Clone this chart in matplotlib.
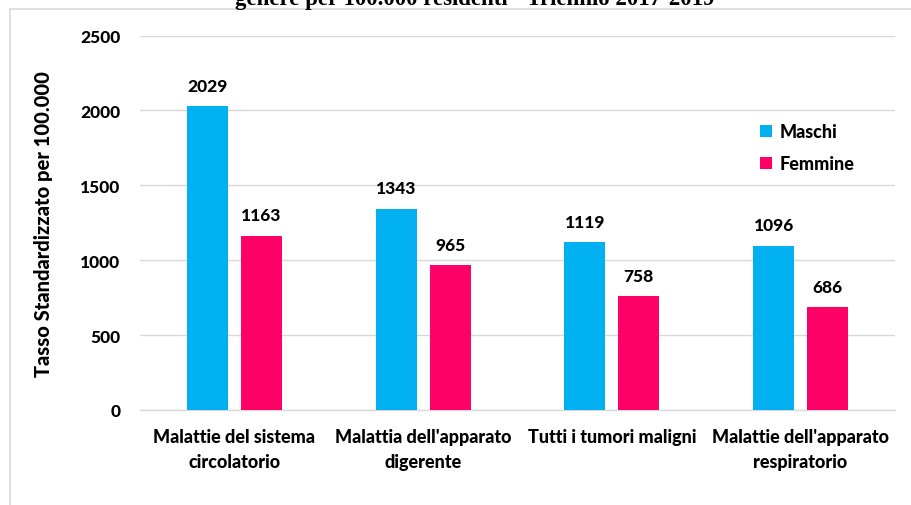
import matplotlib
matplotlib.use("Agg")
import matplotlib.pyplot as plt
import numpy as np
from matplotlib.patches import Rectangle

categories = ["Malattie del sistema\ncircolatorio", "Malattia dell'apparato\ndigerente",
              "Tutti i tumori maligni", "Malattie dell'apparato\nrespiratorio"]
maschi = [2029, 1343, 1119, 1096]
femmine = [1163, 965, 758, 686]
yticks = [0, 500, 1000, 1500, 2000, 2500]

plt.rcParams['font.family'] = ['Lato', 'DejaVu Sans']

fig = plt.figure(figsize=(9.11, 5.06), dpi=100)
ax = fig.add_axes([140/911, 1-411/506, 755/911, (411-36.5)/506])

x = np.arange(len(categories))
w = 0.217
off = 0.143
b1 = ax.bar(x - off, maschi, w, color='#00B0F0', label='Maschi', zorder=3)
b2 = ax.bar(x + off, femmine, w, color='#FF0066', label='Femmine', zorder=3)

for bars in (b1, b2):
    for r in bars:
        h = r.get_height()
        ax.annotate(f"{h:.0f}", (r.get_x() + r.get_width()/2, h), xytext=(0, 9),
                    textcoords='offset points', ha='center', va='bottom',
                    fontsize=12.5, fontweight='black')

ax.set_xlim(-0.5, len(categories) - 0.5)
ax.set_ylim(0, 2500)
ax.set_yticks(yticks)
ax.set_yticklabels([str(t) for t in yticks], fontsize=12.5, fontweight='black')
ax.set_xticks(x)
ax.set_xticklabels(categories, fontsize=13, fontweight='black', linespacing=1.6)
ax.tick_params(axis='x', length=0, pad=13)
ax.tick_params(axis='y', length=0, pad=14)
ax.yaxis.grid(True, color='#d9d9d9', linewidth=1, zorder=0)
for s in ['top', 'right', 'left']:
    ax.spines[s].set_visible(False)
ax.spines['bottom'].set_color('#d9d9d9')
ax.spines['bottom'].set_linewidth(1)

ax.set_ylabel("Tasso Standardizzato per 100.000", fontsize=14.5, fontweight='black', labelpad=20)

leg = ax.legend(loc='upper left', bbox_to_anchor=(0.80, 0.81), frameon=False,
                prop={'size': 13, 'weight': 'black'}, handlelength=0.65, handleheight=0.65,
                labelspacing=0.85, handletextpad=0.4)

fig.patches.append(Rectangle((10/911, -0.1), 1.2, 1 - 10/506 + 0.1, transform=fig.transFigure,
                             fill=False, edgecolor='#d9d9d9', linewidth=1.2, zorder=0))

fig.text(475/911, 1 - 5/506, "genere per 100.000 residenti - Triennio 2017-2019",
         ha='center', va='baseline', family='Liberation Serif', fontweight='bold', fontsize=16.5)

fig.savefig("out.png", dpi=100)
